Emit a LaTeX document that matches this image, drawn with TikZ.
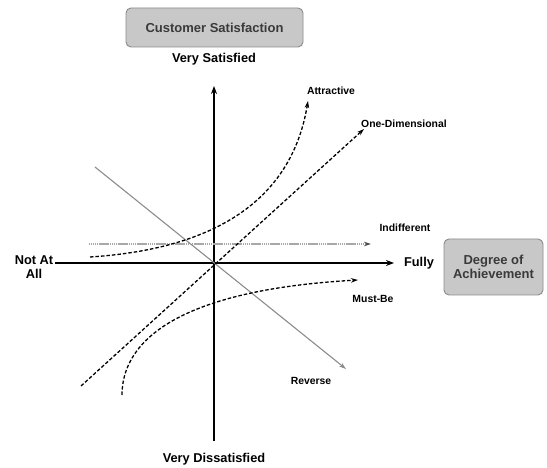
\documentclass[tikz,border=0pt]{standalone}
\usepackage{fontspec}
\setmainfont{Liberation Sans}
\usetikzlibrary{arrows.meta}
\definecolor{boxfill}{HTML}{C8C8C8}
\definecolor{boxline}{HTML}{8A8A8A}
\definecolor{boxtext}{HTML}{3A3A3A}
\definecolor{refline}{HTML}{8C8C8C}
\definecolor{indline}{HTML}{A8A8A8}
\begin{document}
\begin{tikzpicture}[x=1pt,y=-1pt,
  titlebox/.style={draw=boxline,fill=boxfill,rounded corners=5pt,line width=0.9pt,text=boxtext,font=\fontsize{13}{14.5}\selectfont\bfseries,align=center,inner sep=0pt},
  biglabel/.style={font=\fontsize{12.8}{14}\selectfont\bfseries,align=center,inner sep=1pt},
  smalllabel/.style={font=\fontsize{10.4}{12}\selectfont\bfseries,inner sep=1pt},
  axisline/.style={line width=1.8pt,-{Stealth[length=8pt,width=6pt]}},
  dashcurve/.style={line width=1.3pt,dash pattern=on 3.5pt off 2pt,-{Stealth[length=7pt,width=4.5pt]}},
  greyarrow/.style={refline,line width=1.1pt,-{Stealth[length=7pt,width=4.5pt]}},
  greydash/.style={indline,line width=1.6pt,dash pattern=on 1.4pt off 0.5pt,-{Stealth[length=7pt,width=4.5pt,color=black!70]}}]
\useasboundingbox (0,0) rectangle (547,468);
% boxes
\node[titlebox,minimum width=177pt,minimum height=39pt] (cs) at (214.5,27.5) {Customer Satisfaction};
\node[titlebox,minimum width=99pt,minimum height=56pt] (da) at (493.5,267) {Degree of\\Achievement};
% axis labels
\node[biglabel] (vs) at (214,59) {Very Satisfied};
\node[biglabel] (vd) at (214,459) {Very Dissatisfied};
\node[biglabel] (na) at (34,267) {Not At\\All};
\node[biglabel] (fu) at (419,263) {Fully};
% coordinates
\coordinate (o) at (214,263);
\coordinate (ytop) at (214,86);
\coordinate (ybot) at (214,441);
\coordinate (xl) at (55,263);
\coordinate (xr) at (394,263);
% axes
\draw[axisline] (ybot) -- (ytop);
\draw[axisline] (xl) -- (xr);
% reverse
\coordinate (rvs) at (95,167);
\coordinate (rve) at (346,369);
\draw[greyarrow] (rvs) -- (rve);
\node[smalllabel] (rv) at (311,381) {Reverse};
% indifferent
\coordinate (ins) at (89,244);
\coordinate (ine) at (371,244);
\draw[greydash] (ins) -- (ine);
\node[smalllabel] (in) at (405,228) {Indifferent};
% one-dimensional
\coordinate (ods) at (81,386);
\coordinate (ode) at (364,129);
\draw[dashcurve] (ods) -- (ode);
\node[smalllabel,anchor=west] (od) at (360,124) {One-Dimensional};
% attractive
\coordinate (ats) at (90,257);
\coordinate (ate) at (308,101);
\draw[dashcurve] (ats) .. controls (200,250) and (290,210) .. (ate);
\node[smalllabel] (at) at (331,91) {Attractive};
% must-be
\coordinate (mbs) at (122,395);
\coordinate (mbe) at (358,280);
\draw[dashcurve] (mbs) .. controls (122,340) and (180,290) .. (mbe);
\node[smalllabel] (mb) at (373,299) {Must-Be};
\end{tikzpicture}
\end{document}
